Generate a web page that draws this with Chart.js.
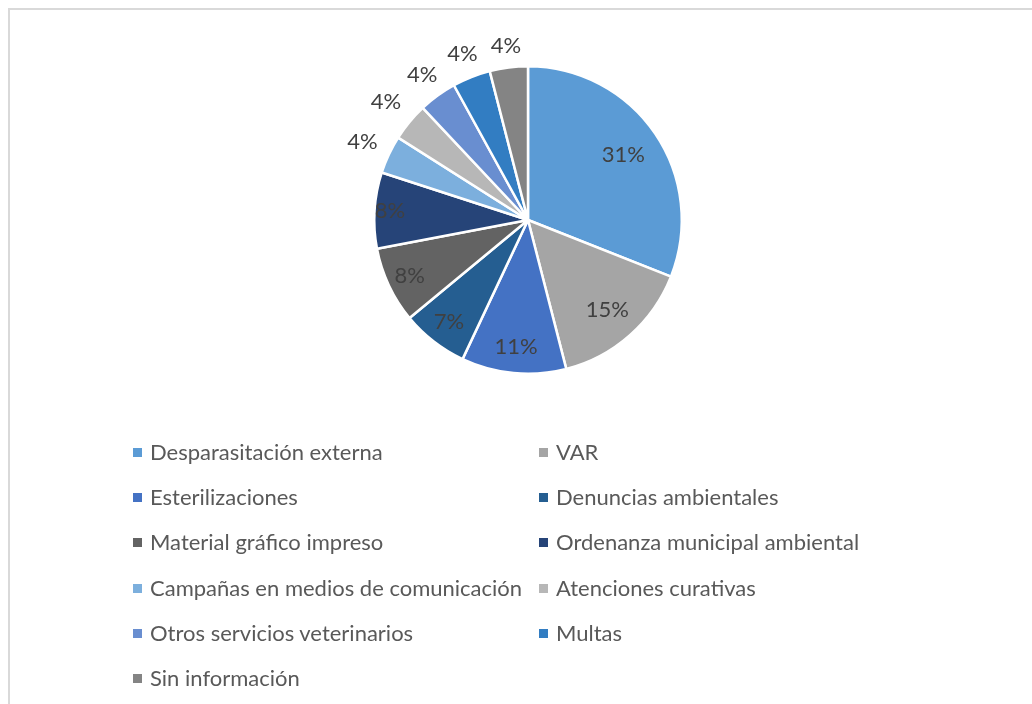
<!DOCTYPE html>
<html lang="es">
<head>
    <meta charset="UTF-8">
    <title>Servicios</title>
    <script src="https://cdn.jsdelivr.net/npm/chart.js"></script>
    <style>
        html, body {
            margin: 0;
            padding: 0;
            background: #fff;
            overflow: hidden;
        }
        #wrap {
            position: relative;
            width: 1032px;
            height: 704px;
        }
        #frame {
            position: absolute;
            left: 8px;
            top: 8px;
            width: 1100px;
            height: 800px;
            border: 2px solid #d9d9d9;
        }
        #pieChart {
            position: absolute;
            left: 0;
            top: 0;
        }
        .legend-item {
            position: absolute;
            font-family: Lato, "Open Sans", sans-serif;
            font-size: 22px;
            color: #595959;
            white-space: nowrap;
            line-height: 26px;
        }
        .legend-item .box {
            position: absolute;
            width: 9px;
            height: 9px;
            left: -17px;
            top: 9px;
        }
    </style>
</head>
<body>
<div id="wrap">
    <div id="frame"></div>
    <canvas id="pieChart" width="1032" height="704"></canvas>
    <div id="legend"></div>
</div>

<script>
    // Servicios y su porcentaje
    var categories = [
        'Desparasitación externa',
        'VAR',
        'Esterilizaciones',
        'Denuncias ambientales',
        'Material gráfico impreso',
        'Ordenanza municipal ambiental',
        'Campañas en medios de comunicación',
        'Atenciones curativas',
        'Otros servicios veterinarios',
        'Multas',
        'Sin información'
    ];
    var percentages = [31, 15, 11, 7, 8, 8, 4, 4, 4, 4, 4];

    var colors = ['#5b9bd5', '#a5a5a5', '#4472c4', '#255e91', '#636363', '#264478',
                  '#7cafdd', '#b7b7b7', '#698ed0', '#327dc2', '#848484'];

    // distance of each label from the centre, as a share of the radius
    var labelRadius = [0.75, 0.78, 0.83, 0.84, 0.85, 0.9, 1.19, 1.2, 1.17, 1.16, 1.14];

    var sliceLabels = {
        id: 'sliceLabels',
        afterDatasetsDraw: function (chart) {
            var ctx = chart.ctx;
            var meta = chart.getDatasetMeta(0);
            ctx.save();
            ctx.font = '22px Lato, "Open Sans", sans-serif';
            ctx.fillStyle = '#404040';
            ctx.textAlign = 'center';
            ctx.textBaseline = 'middle';
            meta.data.forEach(function (arc, i) {
                var mid = (arc.startAngle + arc.endAngle) / 2;
                var r = arc.outerRadius * labelRadius[i];
                var x = arc.x + Math.cos(mid) * r;
                var y = arc.y + Math.sin(mid) * r;
                ctx.fillText(percentages[i] + '%', x, y);
            });
            ctx.restore();
        }
    };

    var pieChart = new Chart(document.getElementById('pieChart'), {
        type: 'pie',
        data: {
            labels: categories,
            datasets: [{
                data: percentages,
                backgroundColor: colors,
                borderColor: '#ffffff',
                borderWidth: 2.5
            }]
        },
        options: {
            responsive: false,
            animation: false,
            devicePixelRatio: 1,
            layout: {
                padding: { left: 24, right: 0, top: 65, bottom: 329 }
            },
            plugins: {
                legend: { display: false },
                tooltip: { enabled: false }
            }
        },
        plugins: [sliceLabels]
    });

    // two column legend under the pie
    var legend = document.getElementById('legend');
    categories.forEach(function (name, i) {
        var col = i % 2;
        var row = Math.floor(i / 2);
        var item = document.createElement('div');
        item.className = 'legend-item';
        item.style.left = (col === 0 ? 150 : 556) + 'px';
        item.style.top = (439 + row * 45.2) + 'px';
        var box = document.createElement('span');
        box.className = 'box';
        box.style.background = colors[i];
        item.appendChild(box);
        item.appendChild(document.createTextNode(name));
        legend.appendChild(item);
    });
</script>
</body>
</html>
